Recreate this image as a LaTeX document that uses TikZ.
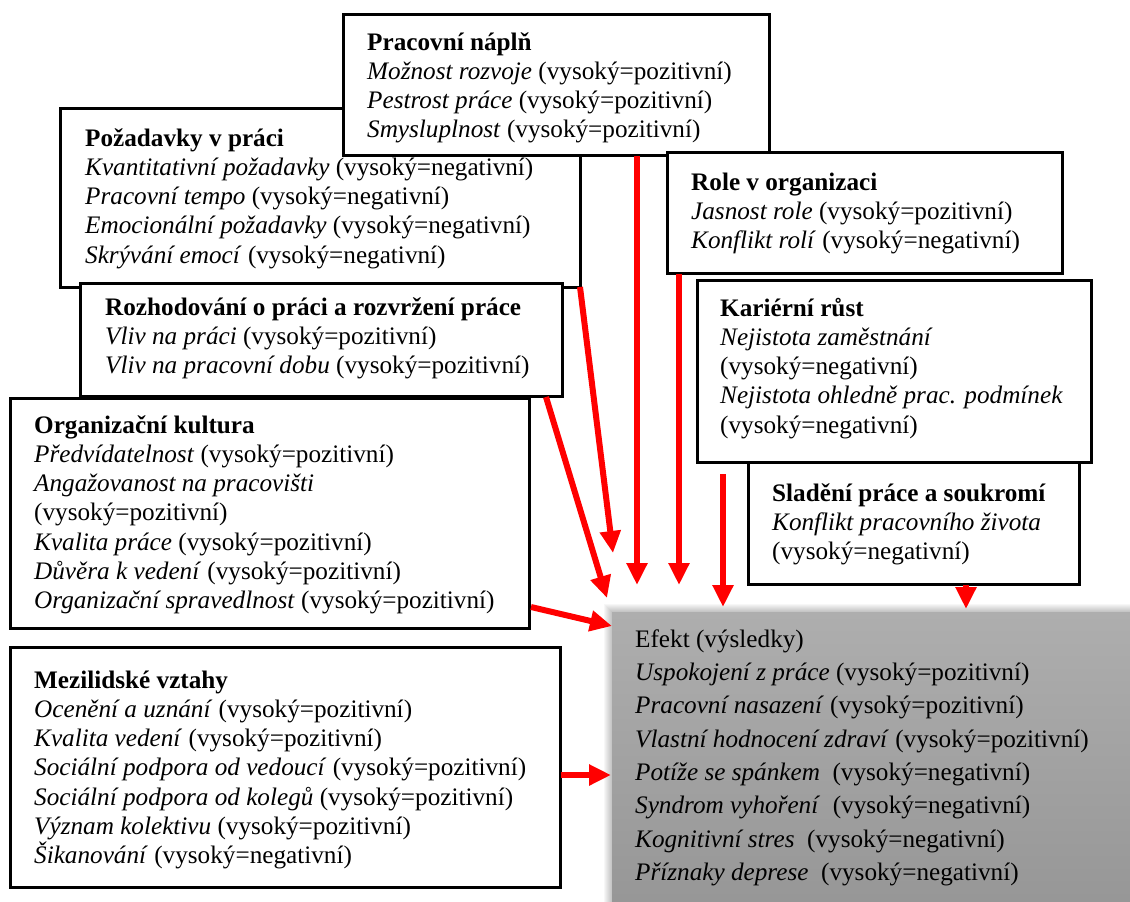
\documentclass[tikz,border=0pt]{standalone}
\usepackage{fontspec}
\setmainfont{Liberation Serif}
\usetikzlibrary{arrows.meta}
\definecolor{effTop}{RGB}{174,174,174}
\definecolor{effBot}{RGB}{150,150,150}
\definecolor{arrRed}{RGB}{255,0,0}
\newcommand{\firstln}{\rule{0pt}{25pt}}
\setlength{\lineskiplimit}{-30pt}
\begin{document}
\begin{tikzpicture}[x=1pt,y=-1pt,
  box/.style={draw=black, line width=3pt, fill=white, anchor=north west, inner sep=0pt, outer sep=0pt},
  txt/.style={anchor=north west, inner sep=0pt, align=left, font=\fontsize{25.2}{29.2}\selectfont, execute at begin node={\setlength{\lineskiplimit}{-30pt}}},
  efftxt/.style={anchor=north west, inner sep=0pt, align=left, font=\fontsize{25.2}{33.3}\selectfont, execute at begin node={\setlength{\lineskiplimit}{-30pt}}},
  arr/.style={draw=arrRed, line width=6pt, -{Triangle[width=20pt,length=22pt]}},
  effbox/.style={anchor=north west, inner sep=0pt, outer sep=0pt, top color=effTop, bottom color=effBot, draw=none}]
\useasboundingbox (0,0) rectangle (1130,902);

% shadow + effect box
\foreach \i in {1,...,8}{\fill[black, opacity=0.03] ({612-\i},{612-\i}) rectangle (1140,912);}
\node[effbox, minimum width=530pt, minimum height=300pt] (efekt) at (612,612) {};
\node[efftxt] (efektT) at (635,622) {\firstln Efekt (výsledky)\\
\textit{Uspokojení z práce} (vysoký=pozitivní)\\
\textit{Pracovní nasazení} (vysoký=pozitivní)\\
\textit{Vlastní hodnocení zdraví} (vysoký=pozitivní)\\
\textit{Potíže se spánkem}\ \ (vysoký=negativní)\\
\textit{Syndrom vyhoření}\ \ (vysoký=negativní)\\
\textit{Kognitivní stres}\ \ (vysoký=negativní)\\
\textit{Příznaky deprese}\ \ (vysoký=negativní)};

% boxes
\node[box, minimum width=520pt, minimum height=179pt] (pozad) at (60,108) {};
\node[txt] (pozadT) at (85,121) {\firstln\textbf{Požadavky v práci}\\
\textit{Kvantitativní požadavky} (vysoký=negativní)\\
\textit{Pracovní tempo} (vysoký=negativní)\\
\textit{Emocionální požadavky} (vysoký=negativní)\\
\textit{Skrývání emocí} (vysoký=negativní)};

\node[box, minimum width=426pt, minimum height=141pt] (napln) at (343,14) {};
\node[txt] (naplnT) at (367,25) {\firstln\textbf{Pracovní náplň}\\
\textit{Možnost rozvoje} (vysoký=pozitivní)\\
\textit{Pestrost práce} (vysoký=pozitivní)\\
\textit{Smysluplnost} (vysoký=pozitivní)};

\node[box, minimum width=482pt, minimum height=113pt] (rozhod) at (80,283) {};
\node[txt] (rozhodT) at (105,290) {\firstln\textbf{Rozhodování o práci a rozvržení práce}\\
\textit{Vliv na práci} (vysoký=pozitivní)\\
\textit{Vliv na pracovní dobu} (vysoký=pozitivní)};

\node[box, minimum width=519pt, minimum height=230pt] (kultura) at (10,398) {};
\node[txt] (kulturaT) at (34,408) {\firstln\textbf{Organizační kultura}\\
\textit{Předvídatelnost} (vysoký=pozitivní)\\
\textit{Angažovanost na pracovišti}\\
(vysoký=pozitivní)\\
\textit{Kvalita práce} (vysoký=pozitivní)\\
\textit{Důvěra k vedení} (vysoký=pozitivní)\\
\textit{Organizační spravedlnost} (vysoký=pozitivní)};

\node[box, minimum width=550pt, minimum height=240pt] (mezi) at (10,647) {};
\node[txt] (meziT) at (34,663) {\firstln\textbf{Mezilidské vztahy}\\
\textit{Ocenění a uznání} (vysoký=pozitivní)\\
\textit{Kvalita vedení} (vysoký=pozitivní)\\
\textit{Sociální podpora od vedoucí} (vysoký=pozitivní)\\
\textit{Sociální podpora od kolegů} (vysoký=pozitivní)\\
\textit{Význam kolektivu} (vysoký=pozitivní)\\
\textit{Šikanování} (vysoký=negativní)};

\node[box, minimum width=395pt, minimum height=121pt] (role) at (667,152) {};
\node[txt] (roleT) at (691,165) {\firstln\textbf{Role v organizaci}\\
\textit{Jasnost role} (vysoký=pozitivní)\\
\textit{Konflikt rolí} (vysoký=negativní)};

\node[box, minimum width=394pt, minimum height=182pt] (karier) at (697,280) {};
\node[txt] (karierT) at (720,291) {\firstln\textbf{Kariérní růst}\\
\textit{Nejistota zaměstnání}\\
(vysoký=negativní)\\
\textit{Nejistota ohledně prac. podmínek}\\
(vysoký=negativní)};

\node[box, minimum width=331pt, minimum height=122pt] (sladeni) at (748,462) {};
\node[txt] (sladeniT) at (772,476) {\firstln\textbf{Sladění práce a soukromí}\\
\textit{Konflikt pracovního života}\\
(vysoký=negativní)};

% arrow coordinates
\coordinate (a1e) at (613,553);
\coordinate (a2s) at (546,397);
\coordinate (a2e) at (607,598);
\coordinate (a3s) at (637,156);
\coordinate (a3e) at (637,585);
\coordinate (a4s) at (679,274);
\coordinate (a4e) at (679,585);
\coordinate (a5s) at (723,474);
\coordinate (a5e) at (723,607);
\coordinate (a6s) at (966,585);
\coordinate (a6e) at (966,609);
\coordinate (a7s) at (531,607);
\coordinate (a7e) at (612,626);
\coordinate (a8s) at (561,775);
\coordinate (a8e) at (611,775);

\draw[arr] (pozad.south east) -- (a1e);
\draw[arr] (a2s) -- (a2e);
\draw[arr] (a3s) -- (a3e);
\draw[arr] (a4s) -- (a4e);
\draw[arr] (a5s) -- (a5e);
\draw[arr] (a6s) -- (a6e);
\draw[arr] (a7s) -- (a7e);
\draw[arr] (a8s) -- (a8e);
\end{tikzpicture}
\end{document}
